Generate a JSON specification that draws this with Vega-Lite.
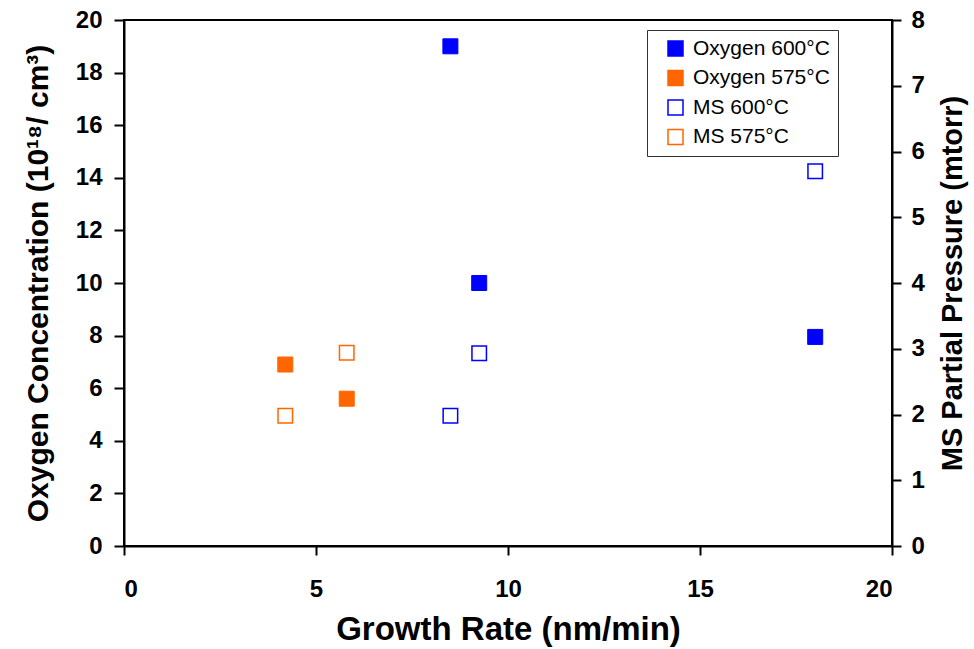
{
  "$schema": "https://vega.github.io/schema/vega-lite/v6.json",
  "width": 768,
  "height": 526,
  "autosize": {"type": "none"},
  "padding": {"left": 124, "top": 20, "right": 82, "bottom": 103},
  "background": "white",
  "config": {
    "view": {"stroke": "black", "strokeWidth": 2},
    "axis": {
      "grid": false,
      "domainColor": "black",
      "domainWidth": 2,
      "tickColor": "black",
      "tickWidth": 2,
      "tickSize": 10,
      "labelFont": "Liberation Sans",
      "labelFontWeight": "bold",
      "labelFontSize": 24,
      "labelColor": "black",
      "titleFont": "Liberation Sans",
      "titleFontWeight": "bold",
      "titleFontSize": 29,
      "titleColor": "black"
    }
  },
  "data": {
    "values": [
      {"series": "Oxygen 600°C", "kind": "oxygen", "rate": 8.5, "value": 19.0},
      {"series": "Oxygen 600°C", "kind": "oxygen", "rate": 9.25, "value": 10.0},
      {"series": "Oxygen 600°C", "kind": "oxygen", "rate": 18.0, "value": 7.95},
      {"series": "Oxygen 575°C", "kind": "oxygen", "rate": 4.2, "value": 6.9},
      {"series": "Oxygen 575°C", "kind": "oxygen", "rate": 5.8, "value": 5.6},
      {"series": "MS 600°C", "kind": "ms", "rate": 8.5, "value": 1.98},
      {"series": "MS 600°C", "kind": "ms", "rate": 9.25, "value": 2.93},
      {"series": "MS 600°C", "kind": "ms", "rate": 18.0, "value": 5.7},
      {"series": "MS 575°C", "kind": "ms", "rate": 4.2, "value": 1.98},
      {"series": "MS 575°C", "kind": "ms", "rate": 5.8, "value": 2.94}
    ]
  },
  "encoding": {
    "x": {
      "field": "rate",
      "type": "quantitative",
      "scale": {"domain": [0, 20], "nice": false},
      "axis": {"values": [0, 5, 10, 15, 20], "title": "Growth Rate (nm/min)", "titleFontSize": 33, "tickSize": 9, "labelPadding": 22, "titlePadding": 12}
    },
    "fill": {
      "field": "series",
      "type": "nominal",
      "scale": {
        "domain": ["Oxygen 600°C", "Oxygen 575°C", "MS 600°C", "MS 575°C"],
        "range": ["#0000FF", "#FF6600", "white", "white"]
      },
      "legend": {
        "title": null,
        "orient": "none",
        "legendX": 523,
        "legendY": 10,
        "strokeColor": "#333333",
        "fillColor": "white",
        "padding": 8,
        "rowPadding": 7.5,
        "symbolType": "square",
        "symbolSize": 225,
        "symbolStrokeWidth": 1.5,
        "symbolOffset": 10,
        "labelOffset": 7,
        "labelFont": "Liberation Sans",
        "labelFontSize": 21,
        "labelColor": "black",
        "labelLimit": 300
      }
    },
    "stroke": {
      "field": "series",
      "type": "nominal",
      "scale": {
        "domain": ["Oxygen 600°C", "Oxygen 575°C", "MS 600°C", "MS 575°C"],
        "range": ["#0000FF", "#FF6600", "#0000FF", "#FF6600"]
      },
      "legend": {
        "title": null,
        "orient": "none",
        "legendX": 523,
        "legendY": 10
      }
    }
  },
  "layer": [
    {
      "transform": [{"filter": "datum.kind === 'oxygen'"}],
      "mark": {"type": "point", "shape": "square", "filled": true, "size": 225, "strokeWidth": 1, "opacity": 1},
      "encoding": {
        "y": {
          "field": "value",
          "type": "quantitative",
          "scale": {"domain": [0, 20], "nice": false},
          "axis": {"orient": "left", "values": [0, 2, 4, 6, 8, 10, 12, 14, 16, 18, 20], "title": "Oxygen Concentration (10¹⁸/ cm³)", "titleFontSize": 30, "labelPadding": 12, "titlePadding": 22}
        }
      }
    },
    {
      "transform": [{"filter": "datum.kind === 'ms'"}],
      "mark": {"type": "point", "shape": "square", "filled": true, "size": 210, "strokeWidth": 1.5, "opacity": 1},
      "encoding": {
        "y": {
          "field": "value",
          "type": "quantitative",
          "scale": {"domain": [0, 8], "nice": false},
          "axis": {"orient": "right", "values": [0, 1, 2, 3, 4, 5, 6, 7, 8], "title": "MS Partial Pressure (mtorr)", "titleAngle": 270, "titleBaseline": "top", "tickSize": 9, "labelPadding": 10, "titlePadding": 14}
        }
      }
    }
  ],
  "resolve": {"scale": {"y": "independent"}}
}
